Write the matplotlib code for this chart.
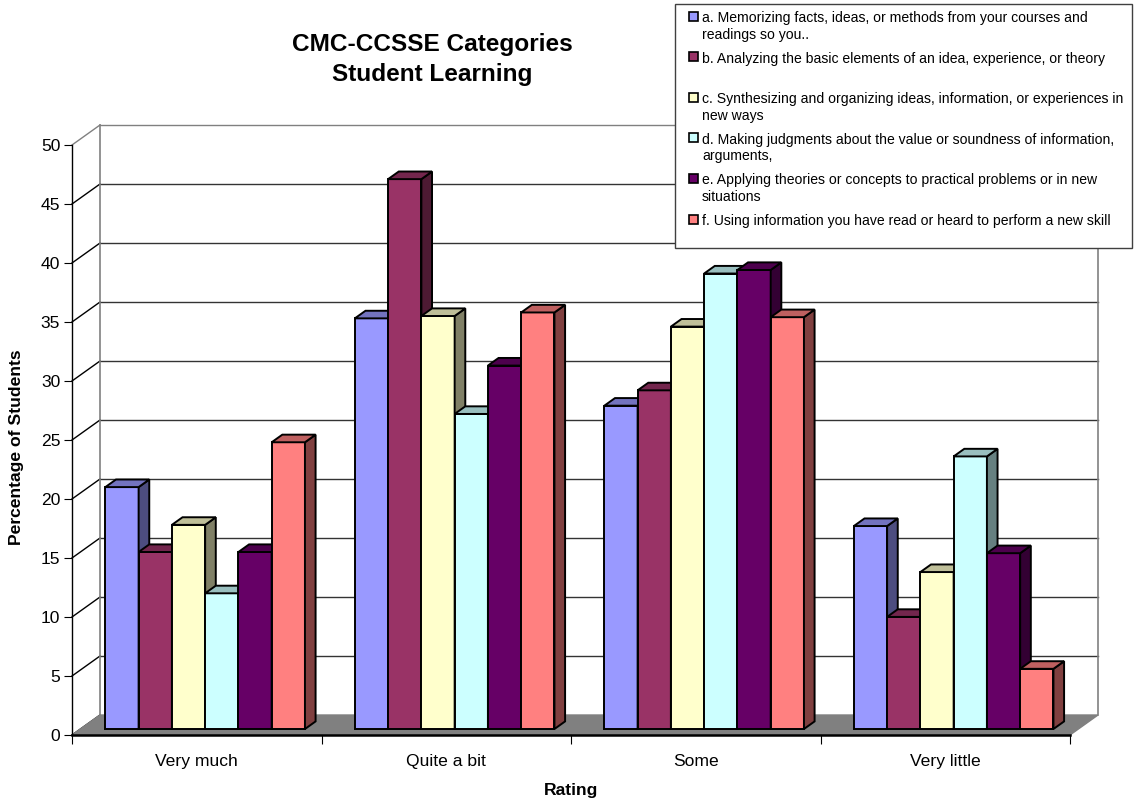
"""
CMC-CCSSE student learning ratings drawn as an Excel-style 3-D column chart.

matplotlib has no oblique 3-D bar helper, so the walls, floor and the front,
side and top faces of every column are drawn as 2-D polygons on a normal axes.
"""

import matplotlib
matplotlib.use("Agg")
import matplotlib.pyplot as plt
from matplotlib.patches import Polygon, Rectangle
from matplotlib.lines import Line2D
import numpy as np

RATINGS = ["Very much", "Quite a bit", "Some", "Very little"]

SERIES_LABELS = [
    "a. Memorizing facts, ideas, or methods from your courses and\nreadings so you..",
    "b. Analyzing the basic elements of an idea, experience, or theory",
    "c. Synthesizing and organizing ideas, information, or experiences in\nnew ways",
    "d. Making judgments about the value or soundness of information,\narguments,",
    "e. Applying theories or concepts to practical problems or in new\nsituations",
    "f. Using information you have read or heard to perform a new skill",
]

# percentage of students per rating, one list per question
memorizing   = [20.5, 34.8, 27.4, 17.2]
analyzing    = [15.0, 46.6, 28.7, 9.5]
synthesizing = [17.3, 35.0, 34.1, 13.3]
judging      = [11.5, 26.7, 38.6, 23.1]
applying     = [15.0, 30.8, 38.9, 14.9]
using_info   = [24.3, 35.3, 34.9, 5.1]

SERIES_VALUES = [memorizing, analyzing, synthesizing, judging, applying, using_info]
SERIES_COLORS = ["#9999FF", "#993366", "#FFFFCC", "#CCFFFF", "#660066", "#FF8080"]

Y_TICKS = list(range(0, 55, 5))
Y_MAX = 50

FIG_W, FIG_H = 1135, 800
PLOT_LEFT, PLOT_RIGHT = 72, 1070     # front edge of the floor, in pixels
PLOT_TOP, PLOT_BOTTOM = 145, 735     # front axis 50 and 0, in pixels
DEPTH_PX = (28, 20)                  # how far the back wall sits up and right

WALL_EDGE = "#808080"
GRID_LINE = "#333333"
FLOOR_GRAY = "#808080"
FONT = "Liberation Sans"

BAR_WIDTH = 0.8 / 6
BAR_FRONT, BAR_BACK = 0.30, 0.68     # column depth as a share of the floor depth


def fig_x(px):
    return px / FIG_W


def fig_y(py):
    return 1 - py / FIG_H


def shade(hex_color, factor):
    rgb = np.array(matplotlib.colors.to_rgb(hex_color))
    return tuple(rgb * factor)


figure = plt.figure(figsize=(FIG_W / 100, FIG_H / 100), dpi=100)
axis = figure.add_axes([
    fig_x(PLOT_LEFT), fig_y(PLOT_BOTTOM),
    (PLOT_RIGHT - PLOT_LEFT) / FIG_W, (PLOT_BOTTOM - PLOT_TOP) / FIG_H,
])
n_cats = len(RATINGS)
axis.set_xlim(0, n_cats)
axis.set_ylim(0, Y_MAX)

# depth offset expressed in data units
dx = DEPTH_PX[0] * n_cats / (PLOT_RIGHT - PLOT_LEFT)
dy = DEPTH_PX[1] * Y_MAX / (PLOT_BOTTOM - PLOT_TOP)

# back wall gridlines and left wall diagonals
for value in Y_TICKS:
    edge = value in (0, Y_MAX)
    color = WALL_EDGE if edge else GRID_LINE
    if value != 0:
        axis.add_line(Line2D([dx, n_cats + dx], [value + dy, value + dy],
                             color=color, linewidth=1.0, clip_on=False, zorder=1))
    axis.add_line(Line2D([0, dx], [value, value + dy],
                         color=WALL_EDGE if value == Y_MAX else "black",
                         linewidth=1.0, clip_on=False, zorder=1))

for wall_x in (dx, n_cats + dx):
    axis.add_line(Line2D([wall_x, wall_x], [dy, Y_MAX + dy], color=WALL_EDGE,
                         linewidth=1.2, clip_on=False, zorder=1))

floor = Polygon([(0, 0), (n_cats, 0), (n_cats + dx, dy), (dx, dy)], closed=True,
                facecolor=FLOOR_GRAY, edgecolor=WALL_EDGE, linewidth=1.0,
                clip_on=False, zorder=2)
axis.add_patch(floor)

# columns, left to right so each one covers the side face of its neighbour
depth_dx = (BAR_BACK - BAR_FRONT) * dx
depth_dy = (BAR_BACK - BAR_FRONT) * dy
for cat_index in range(n_cats):
    for series_index, values in enumerate(SERIES_VALUES):
        value = values[cat_index]
        color = SERIES_COLORS[series_index]
        x0 = cat_index + (1 - 6 * BAR_WIDTH) / 2 + series_index * BAR_WIDTH + BAR_FRONT * dx
        x1 = x0 + BAR_WIDTH
        base = BAR_FRONT * dy
        top = value + base
        faces = [
            ([(x0, base), (x1, base), (x1, top), (x0, top)], color),
            ([(x1, base), (x1 + depth_dx, base + depth_dy),
              (x1 + depth_dx, top + depth_dy), (x1, top)], shade(color, 0.5)),
            ([(x0, top), (x1, top), (x1 + depth_dx, top + depth_dy),
              (x0 + depth_dx, top + depth_dy)], shade(color, 0.75)),
        ]
        for corners, face_color in faces:
            axis.add_patch(Polygon(corners, closed=True, facecolor=face_color,
                                   edgecolor="black", linewidth=1.4,
                                   joinstyle="miter", clip_on=False, zorder=3))

# axes styling
axis.set_facecolor("none")
for side in ("top", "right"):
    axis.spines[side].set_visible(False)
axis.spines["left"].set_linewidth(1.0)
axis.spines["bottom"].set_linewidth(1.8)
axis.spines["left"].set_zorder(4)
axis.spines["bottom"].set_zorder(4)

axis.set_yticks(Y_TICKS)
axis.set_yticklabels([str(v) for v in Y_TICKS], fontsize=12.6, family=FONT)
axis.tick_params(axis="y", direction="out", length=6, width=0.8, pad=2.5)

axis.set_xticks(range(n_cats + 1))
axis.set_xticklabels([""] * (n_cats + 1))
axis.tick_params(axis="x", which="major", direction="out", length=6.5, width=0.8)
axis.set_xticks([i + 0.5 for i in range(n_cats)], minor=True)
axis.set_xticklabels(RATINGS, minor=True, fontsize=12.6, family=FONT)
axis.tick_params(axis="x", which="minor", length=0, pad=14)

# titles and axis labels
figure.text(fig_x(432), fig_y(45), "CMC-CCSSE Categories", ha="center", va="center",
            fontsize=17.6, fontweight="bold", family=FONT)
figure.text(fig_x(432), fig_y(75), "Student Learning", ha="center", va="center",
            fontsize=17.6, fontweight="bold", family=FONT)
figure.text(fig_x(17), fig_y(447), "Percentage of Students", rotation=90,
            ha="center", va="center", fontsize=12.6, fontweight="bold", family=FONT)
figure.text(fig_x(571), fig_y(791), "Rating", ha="center", va="center",
            fontsize=12.6, fontweight="bold", family=FONT)

# legend box in the top right corner
legend_box = Rectangle((fig_x(675), fig_y(248)), (1132 - 675) / FIG_W, (248 - 4) / FIG_H,
                       transform=figure.transFigure, facecolor="white",
                       edgecolor="#404040", linewidth=1.0, zorder=5)
figure.add_artist(legend_box)

entry_y = 18
for label, color in zip(SERIES_LABELS, SERIES_COLORS):
    swatch = Rectangle((fig_x(689), fig_y(entry_y + 2.5)), 9 / FIG_W, 9 / FIG_H,
                       transform=figure.transFigure, facecolor=color,
                       edgecolor="black", linewidth=1.2, zorder=6)
    figure.add_artist(swatch)
    for line_index, line in enumerate(label.split("\n")):
        figure.text(fig_x(702), fig_y(entry_y + line_index * 16.5), line,
                    ha="left", va="center", fontsize=10.1, family=FONT, zorder=6)
    entry_y += 40.6

figure.savefig("out.png", dpi=100, facecolor="white")
